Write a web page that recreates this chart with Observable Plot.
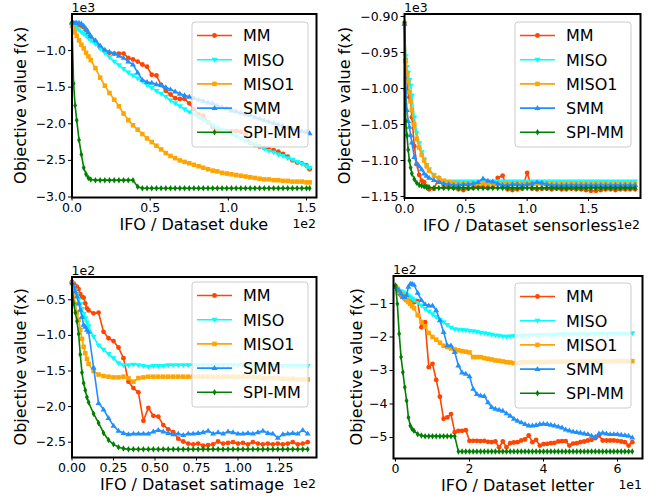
<!DOCTYPE html>
<html><head><meta charset="utf-8">
<script src="https://cdn.jsdelivr.net/npm/d3@7"></script>
<script src="https://cdn.jsdelivr.net/npm/@observablehq/plot@0.6"></script>
<style>
html,body{margin:0;padding:0;background:#fff;}
#wrap{position:relative;width:657px;height:500px;overflow:hidden;font-family:"DejaVu Sans",sans-serif;}
#wrap svg{position:absolute;left:0;top:0;}
</style></head><body><div id="wrap"></div>
<script>
// ---------- data ----------
const seriesNames = ["MM","MISO","MISO1","SMM","SPI-MM"];
const seriesColors = ["#ff4500","#00ffff","#ffa500","#1e90ff","#008000"];

const yLabel = "Objective value f(x)";
const xLabels = ["IFO / Dataset duke","IFO / Dataset sensorless","IFO / Dataset satimage","IFO / Dataset letter"];
const topOffsets = ["1e3","1e3","1e2","1e2"];
const bottomOffsets = ["1e2","1e2","1e2","1e1"];

// duke
const dukeXTicks = [0, 0.5, 1.0, 1.5];
const dukeYTicks = [-3.0, -2.5, -2.0, -1.5, -1.0];
const dukeX = [0,0.01,0.02,0.03,0.045,0.06,0.075,0.09,0.105,0.12,0.15,0.18,0.21,0.24,0.27,0.30,0.33,0.36,0.39,0.42,0.45,0.48,0.51,0.54,0.57,0.60,0.63,0.66,0.69,0.72,0.75,0.78,0.81,0.84,0.87,0.90,0.93,0.96,0.99,1.02,1.05,1.08,1.11,1.14,1.17,1.20,1.23,1.26,1.29,1.32,1.35,1.38,1.41,1.44,1.47,1.50,1.52];
const dukeMM = [-0.63,-0.63,-0.63,-0.64,-0.65,-0.66,-0.68,-0.72,-0.78,-0.82,-0.88,-0.96,-1.01,-1.03,-1.04,-1.04,-1.04,-1.1,-1.12,-1.15,-1.19,-1.22,-1.33,-1.34,-1.47,-1.55,-1.6,-1.65,-1.66,-1.66,-1.72,-1.8,-1.87,-1.89,-1.98,-2.05,-2.08,-2.09,-2.1,-2.1,-2.1,-2.11,-2.15,-2.26,-2.29,-2.31,-2.33,-2.35,-2.36,-2.38,-2.41,-2.45,-2.5,-2.53,-2.54,-2.57,-2.62];
const dukeMISO = [-0.64,-0.66,-0.68,-0.7,-0.72,-0.75,-0.77,-0.8,-0.83,-0.86,-0.91,-0.97,-1.03,-1.09,-1.15,-1.2,-1.25,-1.3,-1.34,-1.38,-1.42,-1.47,-1.51,-1.55,-1.59,-1.63,-1.68,-1.72,-1.76,-1.8,-1.84,-1.87,-1.91,-1.95,-1.98,-2.02,-2.05,-2.08,-2.11,-2.14,-2.17,-2.2,-2.23,-2.26,-2.28,-2.31,-2.34,-2.37,-2.39,-2.42,-2.44,-2.47,-2.49,-2.52,-2.55,-2.58,-2.6];
const dukeMISO1 = [-0.66,-0.7,-0.75,-0.8,-0.86,-0.92,-0.97,-1.03,-1.08,-1.13,-1.24,-1.37,-1.48,-1.58,-1.67,-1.76,-1.86,-1.95,-2.02,-2.08,-2.14,-2.2,-2.25,-2.3,-2.35,-2.4,-2.44,-2.47,-2.5,-2.52,-2.54,-2.56,-2.58,-2.6,-2.62,-2.64,-2.65,-2.67,-2.68,-2.69,-2.7,-2.71,-2.72,-2.73,-2.74,-2.75,-2.76,-2.76,-2.77,-2.77,-2.78,-2.78,-2.79,-2.79,-2.79,-2.8,-2.8];
const dukeSMM = [-0.62,-0.62,-0.62,-0.62,-0.62,-0.63,-0.66,-0.7,-0.75,-0.8,-0.86,-0.93,-0.99,-1.02,-1.04,-1.07,-1.1,-1.15,-1.19,-1.3,-1.4,-1.43,-1.44,-1.46,-1.47,-1.5,-1.53,-1.56,-1.59,-1.61,-1.63,-1.65,-1.67,-1.69,-1.71,-1.72,-1.75,-1.77,-1.79,-1.82,-1.83,-1.85,-1.87,-1.88,-1.91,-1.93,-1.95,-1.97,-1.99,-2.01,-2.03,-2.05,-2.07,-2.09,-2.1,-2.11,-2.13];
const dukeSPI = [-0.62,-1.45,-1.75,-1.95,-2.22,-2.42,-2.6,-2.69,-2.74,-2.76,-2.77,-2.77,-2.77,-2.77,-2.77,-2.77,-2.77,-2.77,-2.77,-2.86,-2.88,-2.88,-2.88,-2.88,-2.88,-2.88,-2.88,-2.88,-2.88,-2.88,-2.88,-2.88,-2.88,-2.88,-2.88,-2.88,-2.88,-2.88,-2.88,-2.88,-2.88,-2.88,-2.88,-2.88,-2.88,-2.88,-2.88,-2.88,-2.88,-2.88,-2.88,-2.88,-2.88,-2.88,-2.88,-2.88,-2.88];

// sensorless
const sensXTicks = [0, 0.5, 1.0, 1.5];
const sensYTicks = [-1.15, -1.10, -1.05, -1.00, -0.95, -0.90];
const sensX = [0,0.01,0.02,0.03,0.04,0.05,0.06,0.08,0.10,0.12,0.14,0.16,0.18,0.20,0.24,0.28,0.32,0.36,0.40,0.44,0.48,0.52,0.56,0.60,0.64,0.68,0.72,0.76,0.80,0.84,0.88,0.92,0.96,1.00,1.04,1.08,1.12,1.16,1.20,1.24,1.28,1.32,1.36,1.40,1.44,1.48,1.52,1.56,1.60,1.64,1.68,1.72,1.76,1.80,1.84,1.88];
const sensMM = [-0.91,-0.96,-0.99,-1.005,-1.012,-1.017,-1.04,-1.08,-1.105,-1.12,-1.128,-1.13,-1.136,-1.14,-1.139,-1.124,-1.137,-1.137,-1.138,-1.14,-1.141,-1.139,-1.138,-1.135,-1.137,-1.138,-1.137,-1.124,-1.121,-1.14,-1.141,-1.14,-1.139,-1.117,-1.139,-1.14,-1.139,-1.139,-1.14,-1.139,-1.14,-1.14,-1.139,-1.14,-1.14,-1.141,-1.142,-1.142,-1.141,-1.14,-1.14,-1.141,-1.14,-1.14,-1.14,-1.14];
const sensMISO = [-0.91,-0.955,-0.97,-0.978,-0.988,-0.996,-1.01,-1.04,-1.062,-1.076,-1.088,-1.098,-1.106,-1.112,-1.12,-1.125,-1.128,-1.129,-1.129,-1.129,-1.129,-1.129,-1.129,-1.129,-1.129,-1.129,-1.129,-1.129,-1.129,-1.129,-1.129,-1.129,-1.129,-1.129,-1.129,-1.129,-1.129,-1.129,-1.129,-1.129,-1.129,-1.129,-1.129,-1.129,-1.129,-1.129,-1.129,-1.129,-1.129,-1.129,-1.129,-1.129,-1.129,-1.129,-1.129,-1.129];
const sensMISO1 = [-0.91,-0.962,-0.98,-0.99,-1.005,-1.018,-1.03,-1.05,-1.07,-1.082,-1.092,-1.1,-1.108,-1.114,-1.121,-1.125,-1.128,-1.13,-1.131,-1.132,-1.132,-1.132,-1.132,-1.132,-1.132,-1.132,-1.132,-1.132,-1.132,-1.132,-1.132,-1.132,-1.132,-1.132,-1.132,-1.132,-1.132,-1.132,-1.132,-1.132,-1.132,-1.132,-1.132,-1.132,-1.132,-1.132,-1.132,-1.132,-1.132,-1.132,-1.133,-1.133,-1.133,-1.133,-1.133,-1.133];
const sensSMM = [-0.91,-1.0,-1.03,-1.045,-1.053,-1.065,-1.075,-1.095,-1.104,-1.108,-1.112,-1.118,-1.121,-1.124,-1.127,-1.13,-1.132,-1.133,-1.134,-1.134,-1.133,-1.133,-1.132,-1.13,-1.125,-1.128,-1.129,-1.132,-1.134,-1.134,-1.133,-1.133,-1.134,-1.133,-1.132,-1.13,-1.131,-1.133,-1.134,-1.134,-1.134,-1.134,-1.134,-1.134,-1.134,-1.134,-1.134,-1.134,-1.134,-1.134,-1.134,-1.134,-1.134,-1.134,-1.134,-1.134];
const sensSPI = [-0.908,-1.045,-1.065,-1.085,-1.1,-1.11,-1.118,-1.126,-1.131,-1.134,-1.135,-1.136,-1.137,-1.137,-1.138,-1.138,-1.138,-1.138,-1.138,-1.138,-1.138,-1.138,-1.138,-1.138,-1.138,-1.138,-1.138,-1.138,-1.138,-1.138,-1.138,-1.138,-1.138,-1.138,-1.138,-1.138,-1.138,-1.138,-1.138,-1.138,-1.138,-1.138,-1.138,-1.138,-1.138,-1.138,-1.138,-1.138,-1.138,-1.138,-1.138,-1.138,-1.138,-1.138,-1.138,-1.138];

// satimage
const satXTicks = [0, 0.25, 0.5, 0.75, 1.0, 1.25];
const satYTicks = [-2.5, -2.0, -1.5, -1.0, -0.5];
const satX = [0,0.01,0.02,0.03,0.04,0.05,0.06,0.07,0.08,0.09,0.10,0.13,0.16,0.19,0.22,0.25,0.28,0.31,0.34,0.37,0.40,0.43,0.46,0.49,0.52,0.55,0.58,0.61,0.64,0.67,0.70,0.73,0.76,0.79,0.82,0.85,0.88,0.91,0.94,0.97,1.00,1.03,1.06,1.09,1.12,1.15,1.18,1.21,1.24,1.27,1.30,1.33,1.36,1.39,1.42];
const satMM = [-0.25,-0.27,-0.3,-0.32,-0.35,-0.42,-0.46,-0.47,-0.55,-0.62,-0.65,-0.69,-0.68,-0.95,-1.04,-1.08,-1.17,-1.32,-1.65,-1.74,-1.8,-2.2,-2.02,-2.13,-2.14,-2.26,-2.32,-2.36,-2.45,-2.49,-2.52,-2.53,-2.52,-2.55,-2.54,-2.53,-2.49,-2.52,-2.51,-2.5,-2.52,-2.51,-2.53,-2.5,-2.52,-2.53,-2.52,-2.53,-2.52,-2.53,-2.52,-2.5,-2.53,-2.52,-2.5];
const satMISO = [-0.27,-0.32,-0.37,-0.43,-0.5,-0.56,-0.63,-0.7,-0.76,-0.82,-0.87,-1.02,-1.14,-1.2,-1.26,-1.32,-1.39,-1.42,-1.42,-1.41,-1.42,-1.43,-1.44,-1.43,-1.43,-1.43,-1.42,-1.42,-1.42,-1.42,-1.42,-1.42,-1.42,-1.42,-1.42,-1.42,-1.42,-1.42,-1.42,-1.42,-1.42,-1.42,-1.42,-1.42,-1.42,-1.42,-1.42,-1.42,-1.43,-1.43,-1.43,-1.43,-1.43,-1.43,-1.43];
const satMISO1 = [-0.27,-0.4,-0.56,-0.68,-0.78,-0.92,-1.05,-1.16,-1.25,-1.33,-1.4,-1.5,-1.55,-1.57,-1.58,-1.59,-1.59,-1.58,-1.6,-1.65,-1.6,-1.59,-1.58,-1.58,-1.58,-1.58,-1.58,-1.58,-1.58,-1.58,-1.58,-1.58,-1.58,-1.58,-1.58,-1.58,-1.58,-1.58,-1.58,-1.58,-1.58,-1.58,-1.58,-1.59,-1.59,-1.6,-1.6,-1.6,-1.6,-1.61,-1.61,-1.61,-1.62,-1.62,-1.62];
const satSMM = [-0.25,-0.3,-0.38,-0.45,-0.55,-0.64,-0.74,-0.85,-0.88,-0.92,-0.95,-1.45,-1.95,-2.04,-2.16,-2.27,-2.34,-2.37,-2.39,-2.38,-2.38,-2.38,-2.38,-2.35,-2.33,-2.35,-2.37,-2.39,-2.38,-2.4,-2.38,-2.38,-2.37,-2.36,-2.34,-2.38,-2.36,-2.38,-2.35,-2.36,-2.38,-2.38,-2.37,-2.38,-2.36,-2.34,-2.37,-2.38,-2.44,-2.39,-2.38,-2.37,-2.38,-2.33,-2.38];
const satSPI = [-0.28,-0.55,-0.68,-0.8,-0.98,-1.27,-1.52,-1.67,-1.77,-1.87,-1.94,-2.1,-2.23,-2.37,-2.47,-2.53,-2.57,-2.59,-2.6,-2.6,-2.6,-2.6,-2.6,-2.6,-2.6,-2.6,-2.6,-2.6,-2.6,-2.6,-2.6,-2.6,-2.6,-2.6,-2.6,-2.6,-2.6,-2.6,-2.6,-2.6,-2.6,-2.6,-2.6,-2.6,-2.6,-2.6,-2.6,-2.6,-2.6,-2.6,-2.6,-2.6,-2.6,-2.6,-2.6];

// letter
const letXTicks = [0, 2, 4, 6];
const letYTicks = [-5, -4, -3, -2, -1];
const letX = [0,0.05,0.1,0.15,0.2,0.25,0.3,0.35,0.4,0.45,
 0.5,0.6,0.7,0.8,0.9,1.0,1.1,1.2,1.3,1.4,
 1.5,1.6,1.7,1.8,1.9,2.0,2.1,2.2,2.3,2.4,
 2.5,2.6,2.7,2.8,2.9,3.0,3.1,3.2,3.3,3.4,
 3.5,3.6,3.7,3.8,3.9,4.0,4.1,4.2,4.3,4.4,
 4.5,4.6,4.7,4.8,4.9,5.0,5.1,5.2,5.3,5.4,
 5.5,5.6,5.7,5.8,5.9,6.0,6.1,6.2,6.3,6.4];
const letMM = [-0.5,-0.56,-0.7,-0.76,-0.81,-0.86,-0.9,-0.92,-0.94,-0.95,
 -0.96,-0.93,-1.71,-1.56,-2.9,-2.8,-3.28,-3.78,-4.44,-4.4,
 -4.3,-4.84,-4.8,-4.8,-4.78,-5.1,-5.1,-5.1,-5.11,-5.1,
 -5.13,-5.14,-5.12,-5.29,-5.12,-5.29,-5.17,-5.15,-5.14,-5.09,
 -5.06,-4.94,-5.14,-5.07,-5.24,-5.2,-5.19,-5.17,-5.16,-5.12,
 -5.11,-5.11,-5.24,-5.18,-5.17,-5.14,-5.12,-5.09,-5.07,-5.02,
 -4.94,-5.09,-5.09,-5.09,-5.09,-5.1,-5.12,-5.14,-5.24,-5.14];
const letMISO = [-0.5,-0.58,-0.62,-0.64,-0.66,-0.7,-0.74,-0.78,-0.82,-0.86,
 -0.9,-0.98,-1.06,-1.16,-1.24,-1.32,-1.4,-1.48,-1.56,-1.64,
 -1.72,-1.77,-1.78,-1.79,-1.8,-1.82,-1.83,-1.85,-1.87,-1.89,
 -1.91,-1.93,-1.95,-1.96,-1.98,-1.99,-1.98,-1.97,-1.96,-1.96,
 -1.96,-1.95,-1.94,-1.94,-1.94,-1.94,-1.94,-1.93,-1.93,-1.92,
 -1.92,-1.92,-1.92,-1.92,-1.92,-1.92,-1.92,-1.92,-1.91,-1.91,
 -1.91,-1.91,-1.91,-1.91,-1.91,-1.9,-1.9,-1.9,-1.9,-1.89];
const letMISO1 = [-0.5,-0.56,-0.66,-0.72,-0.78,-0.84,-0.9,-0.96,-1.01,-1.08,
 -1.14,-1.35,-1.55,-1.68,-1.88,-2.0,-2.08,-2.17,-2.26,-2.3,
 -2.34,-2.37,-2.4,-2.42,-2.44,-2.46,-2.6,-2.6,-2.6,-2.63,
 -2.65,-2.67,-2.7,-2.71,-2.73,-2.75,-2.76,-2.78,-2.78,-2.76,
 -2.75,-2.75,-2.75,-2.75,-2.75,-2.75,-2.74,-2.74,-2.74,-2.74,
 -2.74,-2.74,-2.74,-2.74,-2.74,-2.73,-2.73,-2.73,-2.73,-2.73,
 -2.73,-2.73,-2.73,-2.73,-2.72,-2.72,-2.72,-2.72,-2.72,-2.72];
const letSMM = [-0.5,-0.56,-0.61,-0.7,-0.81,-0.81,-0.75,-0.5,-0.41,-0.41,
 -0.44,-0.68,-0.9,-1.02,-1.06,-1.06,-1.2,-1.5,-1.85,-2.25,
 -2.25,-2.45,-2.85,-3.06,-3.1,-3.17,-3.55,-3.7,-3.75,-3.76,
 -3.95,-4.09,-4.14,-4.17,-4.2,-4.28,-4.35,-4.44,-4.5,-4.55,
 -4.6,-4.64,-4.64,-4.63,-4.6,-4.59,-4.6,-4.62,-4.64,-4.67,
 -4.7,-4.76,-4.79,-4.82,-4.84,-4.86,-4.88,-4.9,-4.95,-4.98,
 -4.88,-4.86,-4.88,-4.9,-4.9,-4.9,-4.92,-4.93,-4.95,-5.0];
const letSPI = [-0.46,-1.01,-1.9,-2.6,-3.05,-3.5,-3.9,-4.4,-4.65,-4.75,
 -4.8,-4.9,-4.94,-4.96,-4.96,-4.96,-4.96,-4.96,-4.96,-4.96,
 -4.96,-4.96,-5.42,-5.42,-5.42,-5.42,-5.42,-5.42,-5.42,-5.42,
 -5.42,-5.42,-5.42,-5.42,-5.42,-5.42,-5.42,-5.42,-5.42,-5.42,
 -5.42,-5.42,-5.42,-5.42,-5.42,-5.42,-5.42,-5.42,-5.42,-5.42,
 -5.42,-5.42,-5.42,-5.42,-5.42,-5.42,-5.42,-5.42,-5.42,-5.42,
 -5.42,-5.42,-5.42,-5.42,-5.42,-5.42,-5.42,-5.42,-5.42,-5.42];

// ---------- symbols (styles) ----------
const triDown = {draw(c, s){ const r = Math.sqrt(s/Math.PI)*1.25; c.moveTo(-r,-r*0.65); c.lineTo(r,-r*0.65); c.lineTo(0,r*1.0); c.closePath(); }};
const triUp = {draw(c, s){ const r = Math.sqrt(s/Math.PI)*1.25; c.moveTo(-r,r*0.65); c.lineTo(r,r*0.65); c.lineTo(0,-r*1.0); c.closePath(); }};
const sq = {draw(c, s){ const r = Math.sqrt(s/Math.PI)*0.95; c.moveTo(-r,-r); c.lineTo(r,-r); c.lineTo(r,r); c.lineTo(-r,r); c.closePath(); }};
const thinDia = {draw(c, s){ const r = Math.sqrt(s/Math.PI)*1.35; c.moveTo(0,-r); c.lineTo(r*0.6,0); c.lineTo(0,r); c.lineTo(-r*0.6,0); c.closePath(); }};
const seriesSymbols = [d3.symbolCircle, triDown, sq, triUp, thinDia];
const markerR = [2.4, 2.4, 2.4, 2.4, 2.4];

const W = 657, H = 500;
const panels = [
  {x: dukeX, ys: [dukeMM, dukeMISO, dukeMISO1, dukeSMM, dukeSPI], frame: [71.5, 13.5, 316, 197],
   xd: [0, 1.564], yd: [-3.007, -0.5], xt: dukeXTicks, yt: dukeYTicks, xf: ".1f", yf: ".1f",
   ylx: 26, xlc: 193.75, legend: [192, 22]},
  {x: sensX, ys: [sensMM, sensMISO, sensMISO1, sensSMM, sensSPI], frame: [404, 13.5, 640, 197.5],
   xd: [0, 1.924], yd: [-1.152, -0.8965], xt: sensXTicks, yt: sensYTicks, xf: ".1f", yf: ".2f",
   ylx: 350, xlc: 520, legend: [515, 22]},
  {x: satX, ys: [satMM, satMISO, satMISO1, satSMM, satSPI], frame: [71.5, 276.5, 316, 457],
   xd: [0, 1.473], yd: [-2.715, -0.18], xt: satXTicks, yt: satYTicks, xf: ".2f", yf: ".1f",
   ylx: 26, xlc: 192, legend: [192, 282]},
  {x: letX, ys: [letMM, letMISO, letMISO1, letSMM, letSPI], frame: [393, 275.5, 642, 458],
   xd: [-0.054, 6.676], yd: [-5.627, -0.179], xt: letXTicks, yt: letYTicks, xf: "d", yf: "d",
   ylx: 362, xlc: 517.5, legend: [515, 283]}
];

const wrap = document.getElementById("wrap");

panels.forEach(p => {
  const [fl, ft, fr, fb] = p.frame;
  const marks = [];
  p.ys.forEach((ys, k) => {
    const rows = p.x.map((x, i) => ({x, y: ys[i]}));
    marks.push(Plot.line(rows, {x: "x", y: "y", stroke: seriesColors[k], strokeWidth: 1.6}));
    marks.push(Plot.dot(rows, {x: "x", y: "y", r: markerR[k], symbol: seriesSymbols[k], fill: seriesColors[k], stroke: "none"}));
  });
  marks.push(Plot.frame({stroke: "black", strokeWidth: 2}));
  const svg = Plot.plot({
    width: W, height: H,
    marginLeft: fl, marginTop: ft, marginRight: W - fr, marginBottom: H - fb,
    style: {background: "transparent", fontFamily: "DejaVu Sans", fontSize: "12.5px", color: "black", overflow: "visible"},
    x: {domain: p.xd, ticks: p.xt, tickFormat: d3.format(p.xf), label: null, tickSize: 3.5, tickPadding: 2.5},
    y: {domain: p.yd, ticks: p.yt, tickFormat: d3.format(p.yf), label: null, tickSize: 3.5, tickPadding: 2.5},
    marks
  });
  wrap.appendChild(svg);
});

// ---------- overlay: labels, offset texts, legends ----------
const ov = d3.select(wrap).append("svg").attr("width", W).attr("height", H)
  .style("font-family", "DejaVu Sans").style("pointer-events", "none");

panels.forEach((p, i) => {
  const [fl, ft, fr, fb] = p.frame;
  const cy = (ft + fb) / 2;
  ov.append("text").attr("x", p.xlc).attr("y", fb + 33).attr("text-anchor", "middle")
    .attr("font-size", 16).attr("fill", "#000").text(xLabels[i]);
  ov.append("text").attr("transform", `translate(${p.ylx},${cy}) rotate(-90)`).attr("text-anchor", "middle")
    .attr("font-size", 16).attr("fill", "#000").text(yLabel);
  ov.append("text").attr("x", fl).attr("y", ft - 2).attr("font-size", 12.5).attr("fill", "#000").text(topOffsets[i]);
  ov.append("text").attr("x", fr).attr("y", fb + 31).attr("text-anchor", "end").attr("font-size", 12.5).attr("fill", "#000").text(bottomOffsets[i]);

  const [lx, ly] = p.legend;
  const g = ov.append("g");
  g.append("rect").attr("x", lx).attr("y", ly).attr("width", 116).attr("height", 125).attr("rx", 3)
    .attr("fill", "white").attr("fill-opacity", 0.8).attr("stroke", "#cccccc").attr("stroke-width", 1);
  seriesNames.forEach((name, k) => {
    const ey = ly + 13.5 + k * 24.2;
    g.append("line").attr("x1", lx + 5).attr("x2", lx + 40).attr("y1", ey).attr("y2", ey)
      .attr("stroke", seriesColors[k]).attr("stroke-width", 1.6);
    g.append("path").attr("d", d3.symbol(seriesSymbols[k], Math.PI * markerR[k] * markerR[k])())
      .attr("transform", `translate(${lx + 22.5},${ey})`).attr("fill", seriesColors[k]);
    g.append("text").attr("x", lx + 51).attr("y", ey + 5.8).attr("font-size", 16).attr("fill", "#000").text(name);
  });
});
</script></body></html>
